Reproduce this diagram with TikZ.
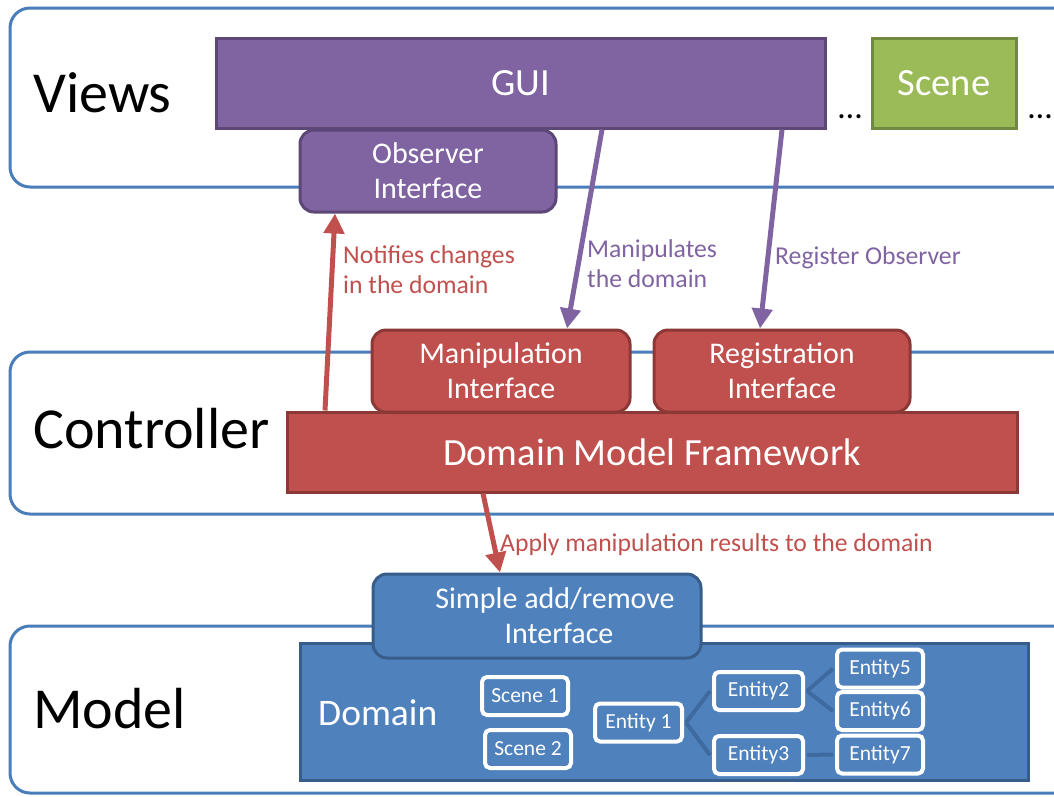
\documentclass[tikz,border=0pt]{standalone}
\usepackage{fontspec}
\setmainfont{Carlito}
\usetikzlibrary{arrows.meta}

\definecolor{layerblue}{HTML}{4A7EBB}
\definecolor{viewpurple}{HTML}{8064A2}
\definecolor{viewpurpledark}{HTML}{5C4776}
\definecolor{ctrlred}{HTML}{C0504D}
\definecolor{ctrlreddark}{HTML}{8C3836}
\definecolor{modelblue}{HTML}{4F81BD}
\definecolor{modelbluedark}{HTML}{385D8A}
\definecolor{scenegreen}{HTML}{9BBB59}
\definecolor{scenegreendark}{HTML}{71893F}
\definecolor{linkblue}{HTML}{3E6A9F}

\tikzset{
    layer/.style={draw=layerblue, line width=3pt, rounded corners=20pt},
    layername/.style={anchor=base west, inner sep=0pt, font=\fontsize{58}{62}\selectfont},
    block/.style={line width=3pt, inner sep=0pt, text=white, align=center},
    bigblock/.style={block, font=\fontsize{38.5}{44}\selectfont},
    iface/.style={block, rounded corners=14pt, font=\fontsize{30}{35}\selectfont},
    viewbox/.style={fill=viewpurple, draw=viewpurpledark},
    ctrlbox/.style={fill=ctrlred, draw=ctrlreddark},
    modelbox/.style={fill=modelblue, draw=modelbluedark},
    item/.style={draw=white, line width=4pt, rounded corners=5pt, inner sep=0pt,
        text=white, minimum width=86pt, minimum height=38pt, font=\fontsize{21.5}{24}\selectfont},
    link/.style={draw=linkblue, line width=4pt},
    flow/.style={line width=5pt, -{Triangle[length=20pt,width=20pt]}},
    flowlabel/.style={anchor=base west, inner sep=0pt, align=left, font=\fontsize{25.7}{30}\selectfont},
}

\begin{document}
\begin{tikzpicture}[x=1pt, y=-1pt]
    \useasboundingbox (0,0) rectangle (1054,796);
    % layers
    \draw [layer] (10,8) rectangle (1080,187);
    \draw [layer] (10,352) rectangle (1080,514);
    \draw [layer] (10,626) rectangle (1080,793);
    \node [layername] (views) at (33,112) {Views};
    \node [layername] (controller) at (33,448) {Controller};
    \node [layername] (model) at (33,728) {Model};

    % views
    \node [bigblock, viewbox, minimum width=609pt, minimum height=90pt] (gui) at (520.5,83) {GUI};
    \node [bigblock, fill=scenegreen, draw=scenegreendark, minimum width=144pt, minimum height=90pt] (scene) at (944,83) {Scene};
    \node [font=\fontsize{34}{34}\selectfont, anchor=base, inner sep=0pt] (dotsa) at (850,118) {\dots};
    \node [font=\fontsize{34}{34}\selectfont, anchor=base, inner sep=0pt] (dotsb) at (1040,118) {\dots};
    \node [iface, viewbox, minimum width=256pt, minimum height=82pt] (observer) at (428,171) {Observer\\Interface};

    % controller
    \node [iface, ctrlbox, minimum width=258pt, minimum height=82pt] (manip) at (501,371) {Manipulation\\Interface};
    \node [iface, ctrlbox, minimum width=256pt, minimum height=82pt] (register) at (782,371) {Registration\\Interface};
    \node [bigblock, ctrlbox, minimum width=730pt, minimum height=80pt] (framework) at (652,452) {Domain Model Framework};

    % model
    \node [block, modelbox, minimum width=728pt, minimum height=137pt] (domain) at (664,711.5) {};
    \node [anchor=base west, inner sep=0pt, text=white, font=\fontsize{37.5}{40}\selectfont] (domainname) at (318,725) {Domain};
    \node [iface, modelbox, minimum width=328pt, minimum height=84pt] (simple) at (537,616)
        {\hspace*{36pt}Simple add/remove\\\hspace*{44pt}Interface};

    \node [item] (scenea) at (525,696) {Scene 1};
    \node [item] (sceneb) at (528,749) {Scene 2};
    \node [item, minimum width=87pt] (e1) at (638.5,722.5) {Entity 1};
    \node [item, minimum width=89pt] (e2) at (758.5,691) {Entity2};
    \node [item, minimum width=89pt] (e3) at (758.5,755) {Entity3};
    \node [item] (e5) at (880,668.5) {Entity5};
    \node [item] (e6) at (880,711) {Entity6};
    \node [item] (e7) at (880,754.5) {Entity7};
    \foreach \a/\b in {e1/e2, e1/e3, e2/e5, e2/e6, e3/e7}
        \draw [link] ([xshift=2pt]\a.east) -- ([xshift=-2pt]\b.west);

    % arrows between layers
    \draw [flow, ctrlred] ([xshift=-327pt]framework.north) -- ([xshift=-93pt]observer.south);
    \draw [flow, viewpurple] ([xshift=81.5pt]gui.south) -- ([xshift=66pt]manip.north);
    \draw [flow, viewpurple] ([xshift=261.5pt]gui.south) -- ([xshift=-22pt]register.north);
    \draw [flow, ctrlred] ([xshift=-169pt]framework.south) -- ([xshift=-37pt]simple.north);

    \node [flowlabel, text=ctrlred] (notify) at (343,293) {Notifies changes\\in the domain};
    \node [flowlabel, text=viewpurple] (manipulates) at (587,287) {Manipulates\\the domain};
    \node [flowlabel, text=viewpurple] (registerobs) at (775,264) {Register Observer};
    \node [flowlabel, text=ctrlred] (apply) at (500,551) {Apply manipulation results to the domain};
\end{tikzpicture}
\end{document}
